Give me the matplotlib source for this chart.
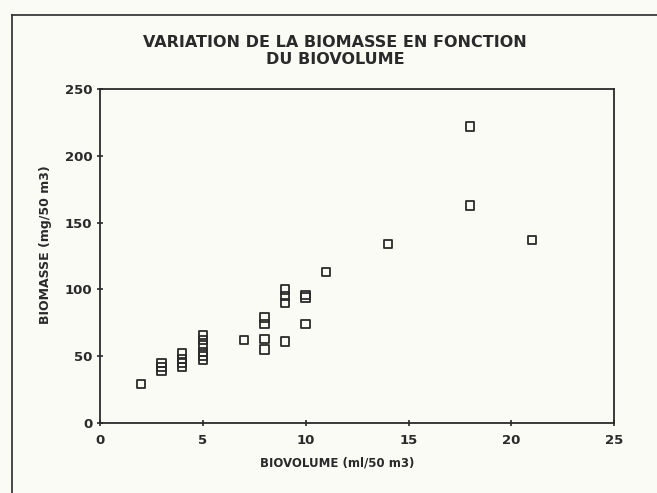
import matplotlib
matplotlib.use("Agg")
import matplotlib.pyplot as plt
from matplotlib.lines import Line2D

# Biovolume (ml/50 m3) and biomass (mg/50 m3) for each sample
biovolume = [2, 3, 3, 3, 4, 4, 4, 4, 5, 5, 5, 5, 5, 5,
             7, 8, 8, 8, 8, 9, 9, 9, 9, 10, 10, 10, 11,
             14, 18, 18, 21]
biomasse = [29, 39, 42, 45, 42, 45, 48, 52, 47, 50, 53, 58, 62, 66,
            62, 55, 63, 74, 79, 61, 90, 95, 100, 74, 94, 96, 113,
            134, 163, 222, 137]

x_ticks = [0, 5, 10, 15, 20, 25]
y_ticks = [0, 50, 100, 150, 200, 250]

title = "VARIATION DE LA BIOMASSE EN FONCTION\nDU BIOVOLUME"
x_label = "BIOVOLUME (ml/50 m3)"
y_label = "BIOMASSE (mg/50 m3)"

ink = "#2a2a2a"
paper = "#fbfbf6"

plt.rcParams['font.family'] = ['DejaVu Sans']

fig = plt.figure(figsize=(6.57, 4.93), dpi=100, facecolor=paper)
ax = fig.add_axes([0.152, 0.142, 0.783, 0.677])
ax.set_facecolor(paper)

ax.scatter(biovolume, biomasse, marker='s', s=36, facecolors='none',
           edgecolors=ink, linewidths=1.3, zorder=3)

ax.set_xlim(0, 25)
ax.set_ylim(0, 250)
ax.set_xticks(x_ticks)
ax.set_yticks(y_ticks)
ax.tick_params(axis='both', colors=ink, labelsize=9.5, width=1.2, length=4,
               direction='inout')
ax.tick_params(axis='x', pad=6)
for lab in ax.get_xticklabels() + ax.get_yticklabels():
    lab.set_fontweight('bold')
for sp in ax.spines.values():
    sp.set_color(ink)
    sp.set_linewidth(1.3)

ax.set_xlabel(x_label, fontsize=8.5, fontweight='bold', color=ink)
ax.set_ylabel(y_label, fontsize=9, fontweight='bold', color=ink)
ax.xaxis.set_label_coords(0.461, -0.099)
ax.yaxis.set_label_coords(-0.094, 0.533)

fig.text(0.51, 0.897, title, ha='center', va='center', fontsize=11.5,
         fontweight='bold', color=ink, linespacing=1.2)

# outer frame around the figure
fig.add_artist(Line2D([0.018, 0.018], [0.0, 0.97], transform=fig.transFigure,
                      color=ink, lw=1.2))
fig.add_artist(Line2D([0.018, 1.0], [0.97, 0.97], transform=fig.transFigure,
                      color=ink, lw=1.2))

fig.savefig("out.png", dpi=100, facecolor=paper)
